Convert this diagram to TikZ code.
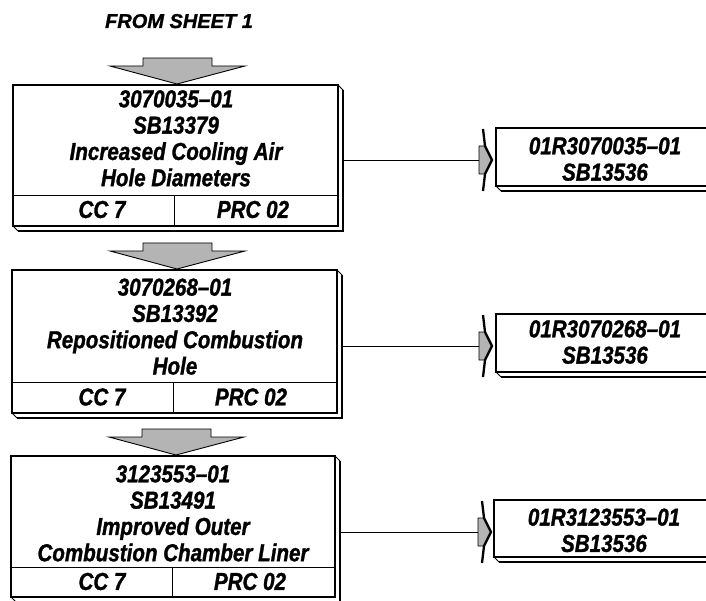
\documentclass[tikz,border=0pt]{standalone}
\usepackage{fontspec}
\newfontfamily\boxfont[FakeStretch=0.84, FakeBold=1.2]{Liberation Sans}
\newfontfamily\headfont[FakeBold=1.2]{Liberation Sans}
\usetikzlibrary{calc}
\definecolor{arrowgray}{RGB}{180,180,180}
\tikzset{
  lbox/.style={draw=black, line width=1.1pt, fill=white, inner sep=0pt, outer sep=0pt},
  btxt/.style={font={\boxfont\bfseries\itshape\fontsize{24.5pt}{26.3pt}\selectfont}, align=center, inner sep=0pt},
  ctxt/.style={font={\boxfont\bfseries\itshape\fontsize{24.5pt}{26.3pt}\selectfont}, inner sep=0pt},
  htxt/.style={font={\headfont\bfseries\itshape\fontsize{20pt}{22pt}\selectfont}, inner sep=0pt},
  conn/.style={draw=black, line width=0.9pt},
  divline/.style={draw=black, line width=0.9pt},
  blockarr/.style={draw=black, fill=arrowgray, line width=0.9pt, line join=miter},
  chev/.pic={
    \coordinate (-in) at (-4,0);
    \filldraw[fill=arrowgray, draw=black, line width=0.6pt] (-4,-14) -- (2,-14) -- (8.5,0) -- (2,14) -- (-4,14) -- cycle;
    \draw[line width=2.3pt, line join=miter] (0,-31) -- (2,-14) -- (9,0) -- (2,14) -- (0,31);
  }
}
\newcommand\dropshade[2]{%
  \fill[white] (#1.north east) -- ++(#2,#2) -- ([shift={(#2,#2)}]#1.south east) -- ([shift={(#2,#2)}]#1.south west) -- (#1.south west) -- (#1.south east) -- cycle;
  \draw[line width=0.8pt] (#1.north east) -- ++(#2,#2);
  \draw[line width=0.8pt] (#1.south west) -- ++(#2,#2);
  \draw[line width=2.6pt] ([shift={(#2,#2)}]#1.north east) -- ([shift={(#2,#2)}]#1.south east) -- ([shift={(#2,#2)}]#1.south west);
  \draw[line width=1.1pt] (#1.south west) rectangle (#1.north east);
}
\newcommand\blockarrow[1]{%
  \path[blockarr] ([shift={(-34,-26)}]#1) -- ([shift={(35,-26)}]#1) -- ([shift={(35,-18)}]#1) -- ([shift={(68,-18)}]#1) -- (#1) -- ([shift={(-67,-18)}]#1) -- ([shift={(-34,-18)}]#1) -- cycle;
}
\begin{document}
\begin{tikzpicture}[x=1pt,y=-1pt]
\useasboundingbox (0,0) rectangle (706,601);
\clip (0,0) rectangle (706,601);
\fill[white] (0,0) rectangle (706,601);

% header
\node[htxt, anchor=base] (hdr) at (179,28) {FROM SHEET 1};

% left boxes
\node[lbox, minimum width=325pt, minimum height=141pt] (b1) at (175.5,155.5) {};
\node[lbox, minimum width=325pt, minimum height=143pt] (b2) at (174.5,341.5) {};
\node[lbox, minimum width=324pt, minimum height=141pt] (b3) at (173,526.5) {};
\dropshade{b1}{5}
\dropshade{b2}{5}
\dropshade{b3}{5}

% dividers
\coordinate (d1) at (174,195);
\coordinate (d2) at (173,382);
\coordinate (d3) at (172,567);
\draw[divline] (b1.west |- d1) -- (b1.east |- d1);
\draw[divline] (d1) -- (d1 |- b1.south);
\draw[divline] (b2.west |- d2) -- (b2.east |- d2);
\draw[divline] (d2) -- (d2 |- b2.south);
\draw[divline] (b3.west |- d3) -- (b3.east |- d3);
\draw[divline] (d3) -- (d3 |- b3.south);

% texts
\node[btxt, anchor=north] (t1) at (176,90) {3070035–01\\SB13379\\Increased Cooling Air\\Hole Diameters};
\node[ctxt] (cc1) at (102,209.5) {CC 7};
\node[ctxt] (pr1) at (253,209.5) {PRC 02};
\node[btxt, anchor=north] (t2) at (175,278.3) {3070268–01\\SB13392\\Repositioned Combustion\\Hole};
\node[ctxt] (cc2) at (102,397) {CC 7};
\node[ctxt] (pr2) at (251,397) {PRC 02};
\node[btxt, anchor=north] (t3) at (173,465) {3123553–01\\SB13491\\Improved Outer\\Combustion Chamber Liner};
\node[ctxt] (cc3) at (102,581.5) {CC 7};
\node[ctxt] (pr3) at (250,581.5) {PRC 02};

% block arrows
\coordinate (a1) at (177,84);
\coordinate (a2) at (177,269);
\coordinate (a3) at (176,455);
\blockarrow{a1}
\blockarrow{a2}
\blockarrow{a3}

% right boxes
\node[lbox, minimum width=218pt, minimum height=58pt] (r1) at (605,157) {};
\node[lbox, minimum width=218pt, minimum height=58pt] (r2) at (605,343) {};
\node[lbox, minimum width=220pt, minimum height=57pt] (r3) at (604,528.5) {};
\dropshade{r1}{5}
\dropshade{r2}{5}
\dropshade{r3}{5}
\node[btxt, anchor=north] (rt1) at (605,137) {01R3070035–01\\SB13536};
\node[btxt, anchor=north] (rt2) at (605,320) {01R3070268–01\\SB13536};
\node[btxt, anchor=north] (rt3) at (604,508.3) {01R3123553–01\\SB13536};

% chevrons
\pic (ch1) at (483,160) {chev};
\pic (ch2) at (483,346) {chev};
\pic (ch3) at (482,532) {chev};

% connectors
\coordinate (b1r) at ([xshift=5pt]b1.east);
\coordinate (b2r) at ([xshift=5pt]b2.east);
\coordinate (b3r) at ([xshift=5pt]b3.east);
\draw[conn] (b1r |- ch1-in) -- (ch1-in);
\draw[conn] (b2r |- ch2-in) -- (ch2-in);
\draw[conn] (b3r |- ch3-in) -- (ch3-in);
\end{tikzpicture}
\end{document}
